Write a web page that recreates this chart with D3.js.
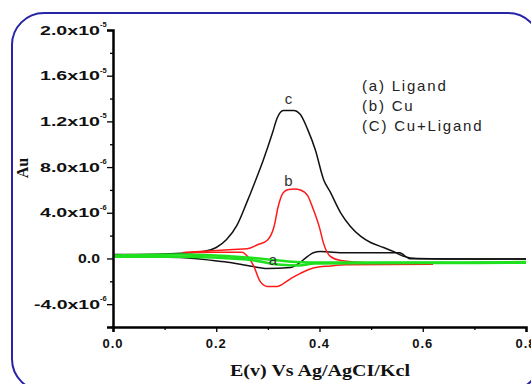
<!DOCTYPE html>
<html><head><meta charset="utf-8">
<script src="https://cdn.jsdelivr.net/npm/d3@7"></script>
<style>body{margin:0;background:#fff}svg{display:block}</style>
</head><body>
<svg id="c" width="531" height="384"></svg>
<script>
// Potential E (V) and current (in units of 1e-6 A)
const cForwardE = [0,0.10,0.175,0.20,0.22,0.24,0.26,0.275,0.291,0.309,0.318,0.330,0.350,0.363,0.377,0.392,0.408,0.421,0.441,0.460,0.480,0.499,0.524,0.544,0.563,0.59,0.70,0.80];
const cForwardI = [0.35,0.4,0.6,0.96,1.66,2.9,5.0,6.7,8.6,11.0,12.3,12.96,12.96,12.6,11.3,9.5,6.9,5.8,4.0,2.8,1.93,1.4,0.96,0.6,0.18,0.0,-0.05,-0.05];
const cReturnE = [0,0.13,0.194,0.227,0.260,0.299,0.344,0.357,0.377,0.388,0.402,0.45,0.555,0.575,0.70,0.80];
const cReturnI = [0.18,0.09,-0.18,-0.35,-0.61,-0.88,-0.79,-0.53,0.18,0.5,0.6,0.5,0.5,-0.02,-0.05,-0.05];

const bForwardE = [0.136,0.233,0.26,0.28,0.299,0.312,0.320,0.330,0.340,0.352,0.363,0.377,0.388,0.400,0.408,0.421,0.441,0.50,0.62];
const bForwardI = [0.53,0.79,0.85,1.2,1.6,2.8,4.55,5.78,6.04,6.08,6.0,5.5,4.3,2.7,1.3,0.18,-0.18,-0.4,-0.5];
const bReturnE = [0.136,0.20,0.25,0.262,0.272,0.285,0.299,0.318,0.330,0.345,0.363,0.388,0.421,0.45,0.62];
const bReturnI = [0.5,0.55,0.55,0.1,-0.6,-2.0,-2.45,-2.45,-2.2,-1.75,-1.3,-0.83,-0.65,-0.55,-0.5];

const aUpperE = [0,0.13,0.26,0.34,0.39,0.6,0.8];
const aUpperI = [0.26,0.35,0.09,-0.26,-0.35,-0.35,-0.32];
const aLowerE = [0,0.13,0.26,0.32,0.36,0.39,0.6,0.8];
const aLowerI = [0.15,0.15,-0.09,-0.53,-0.61,-0.44,-0.4,-0.38];

const xTicks = [0,0.2,0.4,0.6,0.8];
const xTickLabels = ["0.0","0.2","0.4","0.6","0.8"];
const xMinor = [0.1,0.3,0.5,0.7];
const yTicks = [-4,0,4,8,12,16,20];
const yTickLabels = ["-4.0x10","0.0","4.0x10","8.0x10","1.2x10","1.6x10","2.0x10"];
const yTickSups = ["-6","","-6","-6","-5","-5","-5"];
const yMinor = [-6,-2,2,6,10,14,18];
const legendLines = ["(a) Ligand","(b) Cu","(C) Cu+Ligand"];

const svg = d3.select("#c");
const x = d3.scaleLinear([0,0.8],[113,526]);
const y = d3.scaleLinear([-6,20],[327,30]);

// frame
svg.append("rect").attr("x",12).attr("y",13).attr("width",528).attr("height",378)
  .attr("rx",32).attr("fill","none").attr("stroke","#2525a6").attr("stroke-width",2);

const zip = (E,I)=>E.map((e,i)=>[e,I[i]]);
const line = d3.line().x(d=>x(d[0])).y(d=>y(d[1])).curve(d3.curveMonotoneX);
function draw(E,I,color,w){
  svg.append("path").datum(zip(E,I)).attr("d",line).attr("fill","none")
    .attr("stroke",color).attr("stroke-width",w).attr("stroke-linejoin","round");
}
draw(cForwardE,cForwardI,"#111",1.5);
draw(cReturnE,cReturnI,"#111",1.5);
draw(bForwardE,bForwardI,"#ff1a1a",1.5);
draw(bReturnE,bReturnI,"#ff1a1a",1.5);
draw(aUpperE,aUpperI,"#1ee01e",2.5);
draw(aLowerE,aLowerI,"#1ee01e",2.5);

// axes
const gx = svg.append("g").attr("transform","translate(0,327)");
gx.call(d3.axisBottom(x).tickValues(xTicks).tickSize(5).tickFormat(""));
gx.append("g").call(d3.axisBottom(x).tickValues(xMinor).tickSize(3).tickFormat(""));
const gy = svg.append("g").attr("transform","translate(113,0)");
gy.call(d3.axisLeft(y).tickValues(yTicks).tickSize(6).tickFormat(""));
gy.append("g").call(d3.axisLeft(y).tickValues(yMinor).tickSize(3).tickFormat(""));
svg.selectAll(".domain").attr("stroke","#000").attr("stroke-width",2.5);
svg.selectAll(".tick line").attr("stroke","#000").attr("stroke-width",1.3);
svg.selectAll("g g .domain").remove();

const tickFont = "'Liberation Sans', Arial, sans-serif";
xTicks.forEach((v,i)=>{
  svg.append("text").attr("x",x(v)).attr("y",348).attr("text-anchor","middle")
    .attr("font-family",tickFont).attr("font-weight","bold").attr("font-size",13)
    .attr("letter-spacing",1).attr("fill","#111").text(xTickLabels[i]);
});
yTicks.forEach((v,i)=>{
  const s = yTickLabels[i];
  const w = s === "0.0" ? 22 : (s.startsWith("-") ? 66 : 60);
  svg.append("text").attr("x",100 - w).attr("y",y(v)+4.5)
    .attr("textLength",w).attr("lengthAdjust","spacingAndGlyphs")
    .attr("font-family",tickFont).attr("font-weight","bold").attr("font-size",13).attr("fill","#111")
    .text(s);
  if (yTickSups[i]) {
    svg.append("text").attr("x",100).attr("y",y(v)-3)
      .attr("font-family",tickFont).attr("font-weight","bold").attr("font-size",7.5).attr("fill","#111")
      .text(yTickSups[i]);
  }
});

// axis titles
svg.append("text").attr("transform","translate(28,168) rotate(-90)").attr("text-anchor","middle")
  .attr("font-family","'Liberation Serif', 'Times New Roman', serif").attr("font-weight","bold")
  .attr("font-size",16).attr("fill","#111").text("Au");
svg.append("text").attr("x",230).attr("y",376)
  .attr("textLength",180).attr("lengthAdjust","spacingAndGlyphs")
  .attr("font-family","'Liberation Serif', 'Times New Roman', serif").attr("font-weight","bold")
  .attr("font-size",17).attr("fill","#111").text("E(v) Vs Ag/AgCI/Kcl");

// legend
legendLines.forEach((s,i)=>{
  svg.append("text").attr("x",362).attr("y",[91,111,131][i])
    .attr("font-family",tickFont).attr("font-size",15).attr("letter-spacing",1.8)
    .attr("fill","#222").text(s);
});

// curve labels
const curveLabels = [["c",0.34,13.5],["b",0.34,6.3],["a",0.31,-0.6]];
curveLabels.forEach(d=>{
  svg.append("text").attr("x",x(d[1])).attr("y",y(d[2])).attr("text-anchor","middle")
    .attr("font-family",tickFont).attr("font-size",15).attr("fill","#333").text(d[0]);
});
</script>
</body></html>
